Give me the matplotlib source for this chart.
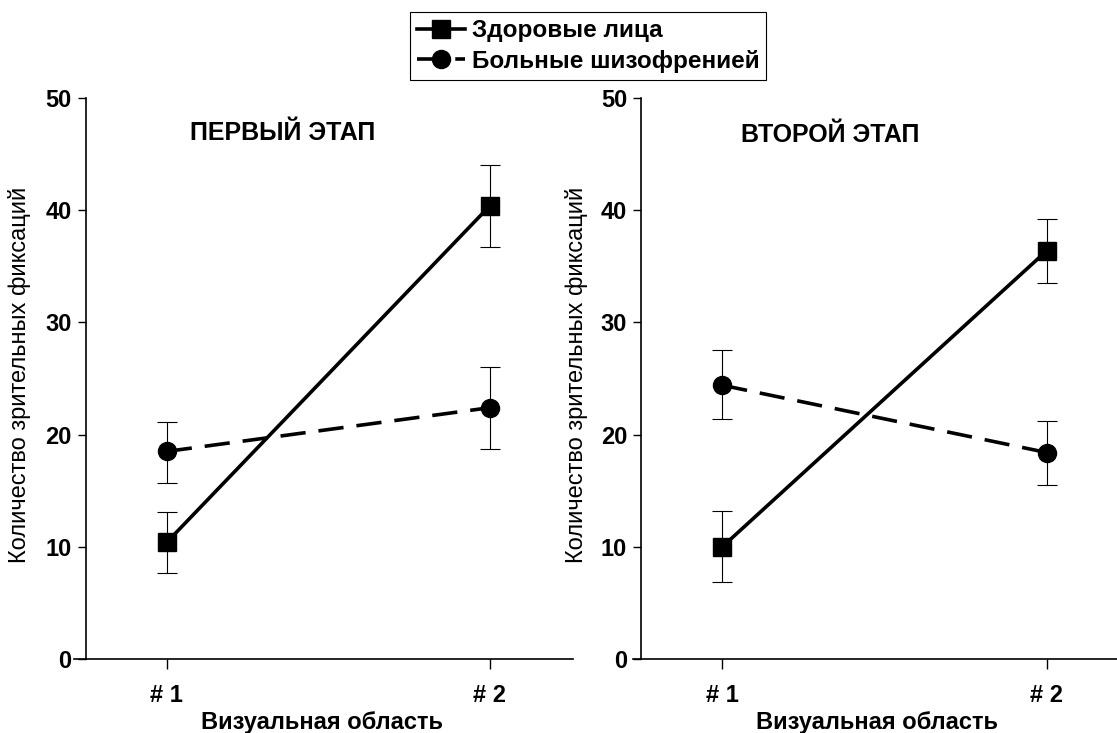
import matplotlib
matplotlib.use("Agg")
import matplotlib.pyplot as plt
import numpy as np

plt.rcParams['font.family'] = ['Liberation Sans', 'DejaVu Sans']

categories = ["# 1", "# 2"]
x_pos = [1, 2]
series_names = ["Здоровые лица", "Больные шизофренией"]

# Panel 1 (ПЕРВЫЙ ЭТАП)
p1_healthy = [10.4, 40.4]
p1_healthy_lo = [7.7, 36.7]
p1_healthy_hi = [13.1, 44.0]
p1_schiz = [18.5, 22.4]
p1_schiz_lo = [15.7, 18.7]
p1_schiz_hi = [21.1, 26.0]

# Panel 2 (ВТОРОЙ ЭТАП)
p2_healthy = [10.0, 36.4]
p2_healthy_lo = [6.9, 33.5]
p2_healthy_hi = [13.2, 39.2]
p2_schiz = [24.4, 18.4]
p2_schiz_lo = [21.4, 15.5]
p2_schiz_hi = [27.5, 21.2]

titles = ["ПЕРВЫЙ ЭТАП", "ВТОРОЙ ЭТАП"]
yticks = [0, 10, 20, 30, 40, 50]
xlabel = "Визуальная область"
ylabel = "Количество зрительных фиксаций"

W, H = 1117, 733
fig = plt.figure(figsize=(W / 100, H / 100), dpi=100)

def px_axes(x0, x1, y_top, y_bot):
    return fig.add_axes([x0 / W, (H - y_bot) / H, (x1 - x0) / W, (y_bot - y_top) / H])

ax1 = px_axes(74, 573, 98, 659)
ax2 = px_axes(633, 1117, 98, 659)

panels = [
    (ax1, p1_healthy, p1_healthy_lo, p1_healthy_hi, p1_schiz, p1_schiz_lo, p1_schiz_hi, (0.713, 2.257), 0.749, 283, 133, 20, 322),
    (ax2, p2_healthy, p2_healthy_lo, p2_healthy_hi, p2_schiz, p2_schiz_lo, p2_schiz_hi, (0.725, 2.216), 0.75, 830, 135, 577, 877),
]

handles = None
for i, (ax, h, hlo, hhi, s, slo, shi, xl, spine_x, tx, ty, ylx, xlx) in enumerate(panels):
    h = np.array(h); s = np.array(s)
    herr = [h - np.array(hlo), np.array(hhi) - h]
    serr = [s - np.array(slo), np.array(shi) - s]
    ax.errorbar(x_pos, h, yerr=herr, fmt='none', ecolor='black', elinewidth=0.8, capsize=7, capthick=0.8, zorder=2)
    ax.errorbar(x_pos, s, yerr=serr, fmt='none', ecolor='black', elinewidth=0.8, capsize=7, capthick=0.8, zorder=2)
    l1, = ax.plot(x_pos, h, color='black', lw=2.6, marker='s', markersize=12.5, zorder=3, label=series_names[0])
    l2, = ax.plot(x_pos, s, color='black', lw=2.6, marker='o', markersize=13, zorder=3,
                  linestyle=(0, (7, 3.6)), label=series_names[1])
    if handles is None:
        handles = [l1, l2]
    ax.set_xlim(*xl)
    ax.set_ylim(0, 50)
    ax.spines['top'].set_visible(False)
    ax.spines['right'].set_visible(False)
    ax.spines['left'].set_position(('data', spine_x))
    ax.spines['left'].set_linewidth(1.2)
    ax.spines['bottom'].set_linewidth(1.2)
    ax.set_yticks(yticks)
    ax.set_yticklabels([str(t) for t in yticks], fontsize=17, fontweight='bold')
    ax.set_xticks(x_pos)
    ax.set_xticklabels(categories, fontsize=17, fontweight='bold')
    ax.tick_params(axis='both', direction='out', length=6, width=1.0, pad=4)
    ax.tick_params(axis='x', length=7, pad=11)
    ax.patch.set_alpha(0)
    fig.text(tx / W, 1 - ty / H, titles[i], ha='center', va='center', fontsize=18, fontweight='bold')
    fig.text(ylx / W, 1 - 375 / H, ylabel, rotation=90, ha='center', va='center', fontsize=17)
    fig.text(xlx / W, 1 - 723 / H, xlabel, ha='center', va='center', fontsize=17, fontweight='bold')

leg = fig.legend(handles, series_names, loc='center', bbox_to_anchor=(588 / W, 1 - 46 / H),
                 frameon=True, fancybox=False, edgecolor='black', framealpha=1,
                 prop={'weight': 'bold', 'size': 17.5}, handlelength=2.0, handletextpad=0.25,
                 borderpad=0.3, labelspacing=0.3, borderaxespad=0)
leg.get_frame().set_linewidth(0.8)

fig.savefig("out.png", dpi=100)
